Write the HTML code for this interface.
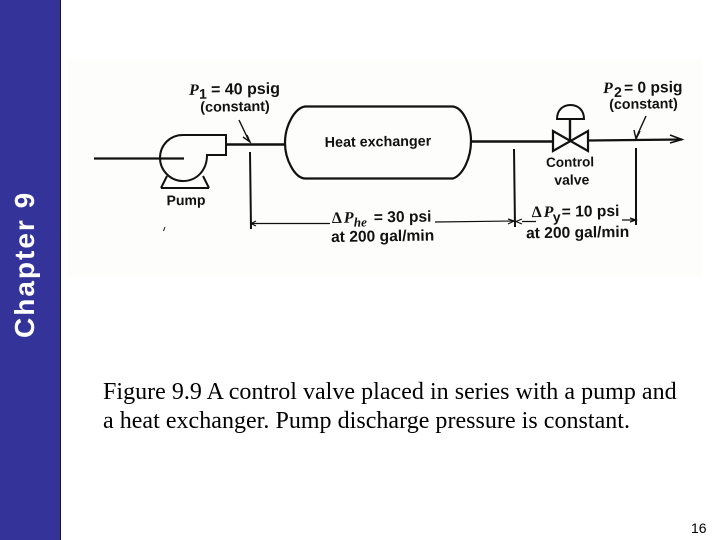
<!DOCTYPE html>
<html>
<head>
<meta charset="utf-8">
<style>
html,body{margin:0;padding:0;background:#fff;}
#page{position:relative;width:720px;height:540px;overflow:hidden;background:#fff;}
#bar{position:absolute;left:0;top:0;width:60px;height:540px;background:#333399;border-right:1px solid #14143c;box-sizing:content-box;}
#chap{position:absolute;left:24.5px;top:338px;transform-origin:0 0;transform:rotate(-90deg) translateY(-50%);font:bold 28px "Liberation Sans",sans-serif;color:#fff;white-space:nowrap;line-height:1;letter-spacing:2px;}
#panel{position:absolute;left:68px;top:60px;width:634px;height:216px;background:#fdfdfb;}
.cap{position:absolute;left:103px;font:24px "Liberation Serif",serif;color:#000;white-space:nowrap;line-height:1;letter-spacing:.03px;}
#num{position:absolute;left:691px;top:521px;font:14px "Liberation Sans",sans-serif;color:#000;line-height:1;}
svg{position:absolute;left:0;top:0;}
svg text{font-family:"Liberation Sans",sans-serif;font-size:14px;fill:#111;font-weight:bold;stroke:none;}
svg text.b{font-family:"Liberation Serif",serif;font-style:italic;font-size:16px;}
svg text.w{font-size:15.6px;}
</style>
</head>
<body>
<div id="page">
<div id="bar"></div>
<div id="chap">Chapter 9</div>
<div id="panel"></div>
<svg width="720" height="540" viewBox="0 0 720 540">
<g fill="none" stroke="#111" stroke-width="2">
<!-- pump -->
<path d="M94 158.500H184" stroke-width="2.200"/>
<path d="M226 155H207C207 170 197 181 183 181C170 181 160 170 160 158C160 145 170 135 183 135H226Z"/>
<path d="M226 144.500H285" stroke-width="2.400"/>
<path d="M161 188L167 176M209 188L203 176M161 188H209"/>
<!-- heat exchanger -->
<path d="M305 106.500H453C463 108 471 125 471 141C471 158 463 175 453 178.500H305C295 178 285 160 285 143C285 125 295 108 305 106.500Z" stroke-width="2.200"/>
<path d="M471 141.500H553" stroke-width="2.400"/>
<!-- valve -->
<path d="M553 131V151L588 131V151Z" stroke-width="2.200"/>
<path d="M570 141V119" stroke-width="2.400"/>
<path d="M557 119H584C584 110 578 105 570.500 105C563 105 557 110 557 119Z"/>
<path d="M588 140.500L682 139.500" stroke-width="2.200"/>
<path d="M670 135L682 139.500L670 143" stroke-width="1.600"/>
<!-- pointers -->
<path d="M239 120L249 141M646 116L636 138" stroke-width="1.400"/>
<path d="M247 135L250 142L243 137M640 131L636 139L634 130" stroke-width="1.400"/>
<!-- dimension lines -->
<path d="M250 152L251 229M514 149L515 227M636 148V225"/>
<path d="M251 223.500H330M435 222L514 221M522 221.500H536M622 220H636" stroke-width="1.200"/>
<path d="M256 221L251 223.500L256 226M508 219L514 221L508 224M522 219L516 221.500L522 224M630 218L636 220L630 222" stroke-width="1.200"/>
<path d="M163.500 231L165 227" stroke-width="1"/>
</g>
<g transform="rotate(-0.8 400 160)">
<text class="b" x="190" y="92">P</text>
<text x="200" y="96" font-size="13">1</text>
<text class="w" x="212" y="92" style="font-size:16px">= 40 psig</text>
<text x="201" y="109" style="font-size:14.400px">(constant)</text>
<text x="325" y="146" style="font-size:14.300px">Heat exchanger</text>
<text x="166" y="202">Pump</text>
<text class="b" x="331" y="222" style="font-style:normal">Δ</text>
<text class="b" x="343" y="222">P</text>
<text class="b" x="353" y="226" style="font-size:13px">he</text>
<text class="w" x="373" y="222">= 30 psi</text>
<text class="w" x="330" y="241">at 200 gal/min</text>
<text class="b" x="604" y="96">P</text>
<text x="615" y="100" font-size="13">2</text>
<text class="w" x="625" y="96">= 0 psig</text>
<text x="610" y="112" style="font-size:14.200px">(constant)</text>
<text x="546" y="169" style="font-size:13.500px">Control</text>
<text x="554" y="187">valve</text>
<text class="b" x="531" y="219" style="font-style:normal">Δ</text>
<text class="b" x="543" y="219">P</text>
<text x="552" y="224" font-size="13">y</text>
<text class="w" x="561" y="219">= 10 psi</text>
<text class="w" x="525" y="240">at 200 gal/min</text>
</g>
</svg>
<div class="cap" style="top:380px;">Figure 9.9 A control valve placed in series with a pump and</div>
<div class="cap" style="top:409px;">a heat exchanger. Pump discharge pressure is constant.</div>
<div id="num">16</div>
</div>
</body>
</html>
